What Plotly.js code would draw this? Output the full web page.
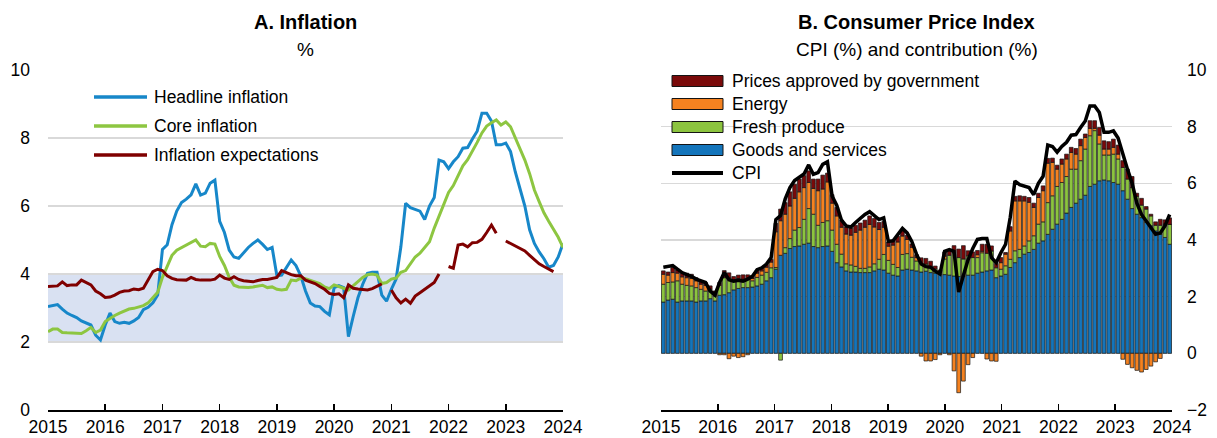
<!DOCTYPE html>
<html><head><meta charset="utf-8">
<script src="https://cdn.plot.ly/plotly-3.0.1.min.js"></script>
<style>html,body{margin:0;padding:0;background:#fff;}#chart{width:1217px;height:438px;}</style>
</head><body><div id="chart"></div>
<script>
// Monthly data, Jan 2015 .. Jan 2024 (109 months)
const yearLabels = ['2015','2016','2017','2018','2019','2020','2021','2022','2023','2024'];

const headline = [
 3.04,3.07,3.1,2.97,2.85,2.78,2.72,2.62,2.57,2.5,2.2,2.06,
 2.5,2.85,2.6,2.55,2.58,2.55,2.62,2.72,2.95,3.02,3.15,3.38,
 4.72,4.86,5.45,5.85,6.1,6.2,6.33,6.65,6.32,6.38,6.67,6.76,
 5.55,5.22,4.7,4.5,4.46,4.62,4.78,4.9,5.0,4.87,4.72,4.78,
 3.95,3.97,4.2,4.41,4.25,3.95,3.5,3.15,3.06,3.04,2.9,2.8,
 3.6,3.66,3.6,2.16,2.75,3.3,3.7,4.02,4.05,4.05,3.38,3.2,
 3.55,3.85,4.8,6.08,5.95,5.9,5.85,5.6,6.0,6.25,7.35,7.3,
 7.1,7.3,7.45,7.7,7.72,7.97,8.2,8.73,8.73,8.5,7.8,7.8,
 7.85,7.6,7.0,6.5,6.0,5.3,4.9,4.65,4.45,4.2,4.25,4.5,
 4.9];

const core = [
 2.3,2.38,2.38,2.28,2.27,2.27,2.26,2.25,2.33,2.43,2.28,2.35,
 2.6,2.7,2.78,2.85,2.92,2.97,2.99,3.02,3.07,3.15,3.32,3.46,
 3.9,4.25,4.55,4.7,4.78,4.85,4.92,5.0,4.82,4.8,4.9,4.88,
 4.52,4.25,3.9,3.67,3.62,3.6,3.6,3.62,3.65,3.67,3.6,3.62,
 3.55,3.53,3.55,3.82,3.8,3.88,3.86,3.82,3.78,3.72,3.62,3.57,
 3.68,3.62,3.58,3.53,3.65,3.78,3.9,3.98,4.0,3.97,3.72,3.75,
 3.85,3.88,4.05,4.1,4.3,4.5,4.61,4.78,4.95,5.35,5.72,6.05,
 6.4,6.6,6.9,7.18,7.36,7.6,7.87,8.15,8.35,8.45,8.53,8.38,
 8.47,8.33,8.0,7.68,7.35,6.95,6.47,6.13,5.8,5.55,5.32,5.08,
 4.78];

const expectations = [
 3.63,3.63,3.65,3.77,3.66,3.68,3.68,3.82,3.75,3.68,3.5,3.42,
 3.31,3.32,3.38,3.46,3.5,3.51,3.56,3.54,3.58,3.82,4.07,4.14,
 4.1,3.95,3.87,3.83,3.82,3.82,3.9,3.84,3.82,3.82,3.82,3.85,
 3.97,3.88,3.84,3.92,3.84,3.8,3.79,3.77,3.81,3.84,3.84,3.86,
 3.9,4.1,4.03,3.98,3.95,3.95,3.82,3.78,3.72,3.63,3.55,3.43,
 3.4,3.42,3.3,3.68,3.58,3.56,3.54,3.53,3.57,3.65,3.71,null,
 3.53,3.3,3.15,3.26,3.14,3.35,3.45,3.55,3.63,3.75,4.0,null,
 4.22,4.17,4.85,4.88,4.8,4.92,4.93,5.02,5.22,5.44,5.2,null,
 4.97,4.9,4.82,4.75,4.68,4.55,4.42,4.3,4.22,4.14,4.07,null,
 null];

const goodsServices = [
 1.81,1.88,1.91,1.81,1.85,1.85,1.85,1.81,1.85,1.85,1.93,1.85,
 2.05,2.07,2.14,2.24,2.29,2.32,2.32,2.34,2.38,2.44,2.56,2.67,
 2.97,3.46,3.53,3.70,3.77,3.79,3.85,3.89,3.77,3.73,3.77,3.79,
 3.6,3.2,3.05,2.91,2.87,2.87,2.85,2.85,2.85,2.91,2.97,2.94,
 2.83,2.76,2.73,2.94,2.97,2.94,2.91,2.87,2.9,2.85,2.83,2.79,
 2.78,2.76,2.73,2.71,2.73,2.76,2.76,2.83,2.87,2.91,2.94,2.67,
 2.73,2.79,3.03,3.2,3.38,3.5,3.56,3.67,3.89,3.97,4.2,4.38,
 4.56,4.73,4.95,5.15,5.3,5.44,5.58,5.89,5.97,6.09,6.12,6.09,
 6.03,5.97,5.74,5.44,5.11,4.91,4.79,4.62,4.5,4.32,4.2,4.09,3.85];

const freshProduce = [
 0.63,0.62,0.61,0.75,0.59,0.55,0.53,0.51,0.41,0.35,0.27,0.18,
 0.35,0.6,0.52,0.35,0.35,0.3,0.3,0.22,0.3,0.32,0.3,0.35,
 0.06,-0.24,0.2,0.35,0.58,0.65,0.88,1.22,1.14,0.79,0.85,0.89,
 0.75,0.65,0.45,0.25,0.25,0.2,0.15,0.15,0.2,0.25,0.35,0.55,
 0.45,0.38,0.3,0.55,0.55,0.45,0.35,0.3,0.25,0.2,0.15,0.1,
 0.55,0.7,0.82,0.67,0.6,0.68,0.62,0.55,0.68,0.62,0.67,0.35,
 0.24,0.3,0.29,0.42,0.29,0.29,0.41,0.48,0.67,0.67,1.12,1.18,
 1.33,1.3,1.29,1.35,1.2,1.36,1.63,1.79,1.89,1.3,0.88,0.91,
 1.0,0.89,0.82,0.71,0.74,0.63,0.44,0.47,0.35,0.2,0.32,0.47,0.7];

const energy = [
 0.35,0.26,0.33,0.27,0.26,0.27,0.26,0.24,0.18,0.2,0.06,0.11,
 -0.05,-0.05,-0.19,-0.1,-0.15,-0.12,-0.05,0.08,0.15,0.15,0.18,0.2,
 1.26,1.22,1.18,1.15,1.12,1.26,1.12,0.92,0.91,1.22,1.18,1.37,
 0.95,1.0,0.95,1.05,1.05,1.2,1.35,1.45,1.5,1.3,1.05,0.96,
 0.5,0.68,0.9,0.65,0.5,0.35,0.12,-0.1,-0.27,-0.27,-0.22,-0.05,
 0.1,-0.05,-0.62,-1.39,-0.98,-0.4,-0.15,0.1,0.05,-0.2,-0.27,-0.28,
 0.23,0.41,1.0,1.76,1.71,1.59,1.36,1.0,0.94,1.1,1.39,1.18,
 0.61,0.65,0.62,0.59,0.53,0.53,0.41,0.26,0.08,0.31,0.21,0.21,
 0.24,0.17,-0.21,-0.39,-0.51,-0.6,-0.66,-0.57,-0.45,-0.3,-0.18,0.0,0.0];

const govPrices = [
 0.12,0.11,0.18,0.11,0.13,0.16,0.15,0.11,0.12,0.1,0.12,0.06,
 0.1,0.25,0.18,0.12,0.12,0.15,0.15,0.1,0.1,0.1,0.1,0.1,
 0.3,0.41,0.41,0.5,0.5,0.45,0.42,0.41,0.33,0.41,0.49,0.31,
 0.3,0.3,0.25,0.25,0.25,0.25,0.25,0.25,0.3,0.3,0.25,0.2,
 0.15,0.15,0.2,0.2,0.15,0.12,0.1,0.2,0.2,0.2,0.1,0.05,
 0.15,0.2,0.25,0.3,0.47,0.18,0.2,0.15,0.25,0.32,0.18,0.15,
 0.18,0.06,0.15,0.16,0.18,0.16,0.17,0.15,0.15,0.17,0.17,0.15,
 0.14,0.18,0.17,0.18,0.2,0.23,0.12,0.27,0.27,0.27,0.29,0.26,
 0.29,0.32,0.24,0.35,0.39,0.11,0.24,0.09,0.06,0.12,0.21,0.15,0.23];

const cpi = headline; // CPI year-on-year, same series as headline inflation

// ---------- drawing ----------
const W = 1217, H = 438;
const px = v => v / W, py = v => 1 - v / H;
const FONT = "'Liberation Sans Narrow','Arial Narrow','Liberation Sans',Arial,sans-serif";
const C = {head:'#1787C9', core:'#8DC641', expo:'#7F0000',
           gs:'#1475BB', fresh:'#8CC43F', energy:'#F58220', gov:'#7A0A0A'};

const nM = headline.length;
const mA = headline.map((_, i) => i);            // panel A positions
const mB = goodsServices.map((_, i) => i + 0.5); // panel B bar centres

const traces = [
  {x:mA, y:headline, type:'scatter', mode:'lines', name:'Headline inflation',
   line:{color:C.head, width:3}, xaxis:'x', yaxis:'y'},
  {x:mA, y:core, type:'scatter', mode:'lines', name:'Core inflation',
   line:{color:C.core, width:3}, xaxis:'x', yaxis:'y'},
  {x:mA, y:expectations, type:'scatter', mode:'lines', name:'Inflation expectations',
   line:{color:C.expo, width:3}, connectgaps:false, xaxis:'x', yaxis:'y'}
];
const barLine = {color:'#141414', width:0.7};
[['Goods and services', goodsServices, C.gs],
 ['Fresh produce', freshProduce, C.fresh],
 ['Energy', energy, C.energy],
 ['Prices approved by government', govPrices, C.gov]].forEach(([n, v, col]) => {
  traces.push({x:mB, y:v, type:'bar', name:n, marker:{color:col, line:barLine},
               xaxis:'x2', yaxis:'y2'});
});
traces.push({x:mB, y:cpi, type:'scatter', mode:'lines', name:'CPI',
             line:{color:'#000', width:3.5}, xaxis:'x2', yaxis:'y2'});

const yearTicksA = yearLabels.map((_, i) => i * 12);
const yearTicksB = yearLabels.map((_, i) => i * nM / (yearLabels.length - 1));

const TICK = 17.5, LEG = 17.5;
const xCommon = {ticks:'inside', ticklen:6, tickwidth:1.5, tickcolor:'#000',
  showline:true, linecolor:'#000', linewidth:1.5, showgrid:false, zeroline:false,
  ticktext:yearLabels, tickfont:{size:TICK}, fixedrange:true};
const yCommon = {showgrid:true, gridcolor:'#D9D9D9', gridwidth:1.5, zeroline:false,
  showline:false, ticks:'', tickfont:{size:TICK}, fixedrange:true};

const legendA = [['Headline inflation', C.head, 97], ['Core inflation', C.core, 126],
                 ['Inflation expectations', C.expo, 155]];
const legendB = [['Prices approved by government', C.gov, 81], ['Energy', C.energy, 104],
                 ['Fresh produce', C.fresh, 127], ['Goods and services', C.gs, 150]];

const shapes = [
  {type:'rect', xref:'x', yref:'y', x0:0, x1:nM - 1, y0:2, y1:4,
   fillcolor:'#D9E1F2', line:{width:0}, layer:'below'}
];
const annotations = [
  {text:'<b>A. Inflation</b>', x:px(305.5), y:py(22), font:{size:20}},
  {text:'%', x:px(305.5), y:py(50), font:{size:19}},
  {text:'<b>B. Consumer Price Index</b>', x:px(916.5), y:py(22), font:{size:20}},
  {text:'CPI (%) and contribution (%)', x:px(916.5), y:py(50), font:{size:19}}
].map(a => Object.assign({xref:'paper', yref:'paper', showarrow:false,
  xanchor:'center', yanchor:'middle'}, a));

legendA.forEach(([t, col, y]) => {
  shapes.push({type:'line', xref:'paper', yref:'paper', x0:px(94), x1:px(147),
    y0:py(y), y1:py(y), line:{color:col, width:3.5}});
  annotations.push({text:t, xref:'paper', yref:'paper', x:px(152), y:py(y),
    xanchor:'left', yanchor:'middle', showarrow:false, font:{size:LEG}});
});
legendB.forEach(([t, col, y]) => {
  shapes.push({type:'rect', xref:'paper', yref:'paper', x0:px(672), x1:px(723),
    y0:py(y - 5.5), y1:py(y + 5.5), fillcolor:col, line:{color:'#141414', width:1}});
  annotations.push({text:t, xref:'paper', yref:'paper', x:px(730), y:py(y),
    xanchor:'left', yanchor:'middle', showarrow:false, font:{size:LEG}});
});
shapes.push({type:'line', xref:'paper', yref:'paper', x0:px(672), x1:px(723),
  y0:py(173), y1:py(173), line:{color:'#000', width:4}});
annotations.push({text:'CPI', xref:'paper', yref:'paper', x:px(730), y:py(173),
  xanchor:'left', yanchor:'middle', showarrow:false, font:{size:LEG}});

const layout = {
  width:W, height:H, margin:{l:0, r:0, t:0, b:0},
  paper_bgcolor:'#fff', plot_bgcolor:'rgba(0,0,0,0)',
  font:{family:FONT, size:LEG, color:'#000'},
  showlegend:false, barmode:'relative', bargap:0.2,
  xaxis:Object.assign({}, xCommon, {domain:[px(48), px(563)], range:[0, nM - 1],
    tickvals:yearTicksA, anchor:'y'}),
  yaxis:Object.assign({}, yCommon, {domain:[py(410), py(70)], range:[0, 10],
    tickvals:[0,2,4,6,8,10], anchor:'x', side:'left', ticklabelstandoff:17}),
  xaxis2:Object.assign({}, xCommon, {domain:[px(661), px(1172)], range:[0, nM],
    tickvals:yearTicksB, anchor:'y2'}),
  yaxis2:Object.assign({}, yCommon, {domain:[py(410), py(70)], range:[-2, 10],
    tickvals:[-2,0,2,4,6,8,10], anchor:'x2', side:'right', ticklabelstandoff:14}),
  shapes:shapes, annotations:annotations
};

Plotly.newPlot('chart', traces, layout, {staticPlot:true, displayModeBar:false});
</script>
</body></html>
